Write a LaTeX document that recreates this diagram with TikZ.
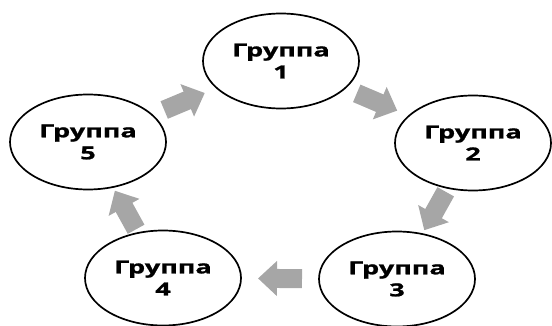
\documentclass[tikz,border=0pt]{standalone}
\usepackage{fontspec}
\setmainfont{Open Sans}
\newfontfamily\groupfont[FakeStretch=1.5,FakeBold=1.2]{Open Sans Bold}
\usetikzlibrary{shapes.geometric,arrows.meta,calc}
\definecolor{flowgray}{HTML}{A6A6A6}
\tikzset{
  group/.style={ellipse, draw=black, line width=1.7pt, fill=white,
    minimum width=156pt, minimum height=95pt, inner sep=0pt,
    align=center, font=\groupfont\fontsize{18}{22}\selectfont},
  flow/.style={draw=flowgray, line width=19pt, line cap=butt,
    -{Triangle[length=19pt,width=34pt]}}
}
\begin{document}
\begin{tikzpicture}[x=1pt,y=1pt]
  \useasboundingbox (0,0) rectangle (552,325);
  % the five groups of the cycle
  \node[group] (g1) at (281,264) {Группа\\1};
  \node[group] (g2) at (473,182) {Группа\\2};
  \node[group] (g3) at (397,46)  {Группа\\3};
  \node[group] (g4) at (163,47)  {Группа\\4};
  \node[group] (g5) at (88,183)  {Группа\\5};
  % block arrows between neighbouring groups
  \foreach \a/\b in {g1/g2, g2/g3, g3/g4, g4/g5, g5/g1} {
    \coordinate (m) at ($(\a)!0.5!(\b)$);
    \draw[flow] ($(m)!22pt!(\a)$) -- ($(m)!22pt!(\b)$);
  }
\end{tikzpicture}
\end{document}
